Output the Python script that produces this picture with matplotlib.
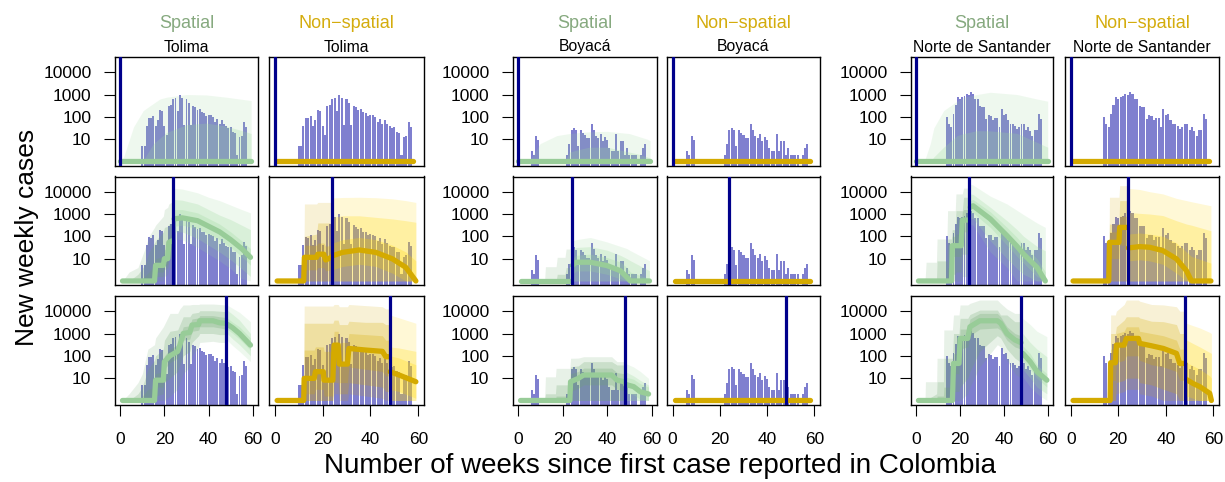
import numpy as np
import matplotlib

matplotlib.use("Agg")

import matplotlib.pyplot as plt
from matplotlib.ticker import NullLocator

plt.rcParams["font.family"] = ["Liberation Sans", "DejaVu Sans"]

# observed weekly cases per department
TOL_WEEKS = np.arange(10, 58)
TOL_CASES = [5, 5, 40, 90, 85, 110, 40, 70, 200, 180, 40, 16, 300, 350, 600, 700,
             180, 1000, 700, 45, 650, 420, 45, 320, 270, 210, 230, 160, 150, 110,
             125, 120, 100, 60, 80, 47, 75, 48, 38, 32, 35, 20, 19, 2, 12, 14, 58, 36]
BOY_WEEKS = np.r_[6:10, 22:54, 55:58]
BOY_CASES = [3, 2, 14, 9, 2, 6, 27, 32, 25, 5, 25, 19, 15, 11, 11, 50, 27, 14, 11,
             17, 8, 13, 9, 4, 3, 3, 17, 3, 8, 8, 2, 4, 2, 2, 2, 2, 2, 4, 6]
NOR_WEEKS = np.arange(14, 58)
NOR_CASES = [100, 50, 35, 140, 350, 740, 660, 750, 850, 1070, 1000, 1300, 1070, 660,
             640, 300, 280, 280, 80, 120, 110, 70, 90, 90, 35, 230, 120, 135, 70, 50,
             50, 38, 29, 36, 50, 50, 25, 35, 24, 14, 25, 25, 135, 80]

DEPTS = ["Tolima", "Boyacá", "Norte de Santander"]
CUTS = [0, 24, 48]

# model output, log10 weekly cases:
# week, median, lo95, hi95, lo80, hi80, lo50, hi50
FLAT = [(1.0, 0, 0, 0, 0, 0, 0, 0), (58.0, 0, 0, 0, 0, 0, 0, 0)]

TOL_SP_R1 = [
    (0.0, 0, 0, 0.00, 0, 0.00, 0, 0), (1.5, 0, 0, 0.20, 0, 0.00, 0, 0),
    (6.0, 0, 0, 1.55, 0, 0.00, 0, 0), (10.4, 0, 0, 2.28, 0, 0.05, 0, 0),
    (15.0, 0, 0, 2.60, 0, 0.80, 0, 0), (18.0, 0, 0, 2.80, 0, 1.05, 0, 0),
    (21.0, 0, 0, 2.88, 0, 1.30, 0, 0), (30.0, 0, 0, 3.00, 0, 1.65, 0, 0),
    (39.0, 0, 0, 2.98, 0, 1.72, 0, 0), (48.0, 0, 0, 2.88, 0, 1.58, 0, 0),
    (57.0, 0, 0, 2.76, 0, 1.33, 0, 0), (59.3, 0, 0, 2.73, 0, 1.25, 0, 0),
]
BOY_SP_R1 = [
    (0.0, 0, 0, 0.00, 0, 0.00, 0, 0), (5.3, 0, 0, 0.10, 0, 0.00, 0, 0),
    (9.8, 0, 0, 0.80, 0, 0.00, 0, 0), (17.3, 0, 0, 1.16, 0, 0.00, 0, 0),
    (21.0, 0, 0, 1.22, 0, 0.00, 0, 0), (23.0, 0, 0, 1.25, 0, 0.42, 0, 0),
    (27.8, 0, 0, 1.30, 0, 0.55, 0, 0), (32.0, 0, 0, 1.33, 0, 0.64, 0, 0),
    (40.0, 0, 0, 1.35, 0, 0.64, 0, 0), (50.0, 0, 0, 1.25, 0, 0.42, 0, 0),
    (53.2, 0, 0, 1.15, 0, 0.35, 0, 0), (58.0, 0, 0, 1.00, 0, 0.20, 0, 0),
    (59.3, 0, 0, 0.93, 0, 0.15, 0, 0),
]
NOR_SP_R1 = [
    (0.0, 0, 0, 0.00, 0, 0.00, 0, 0), (4.0, 0, 0, 0.10, 0, 0.00, 0, 0),
    (6.4, 0, 0, 0.80, 0, 0.00, 0, 0), (8.0, 0, 0, 1.50, 0, 0.20, 0, 0),
    (12.5, 0, 0, 2.28, 0, 0.64, 0, 0), (18.6, 0, 0, 2.70, 0, 1.16, 0, 0),
    (21.6, 0, 0, 2.88, 0, 1.25, 0, 0), (27.7, 0, 0, 3.00, 0, 1.38, 0, 0),
    (33.8, 0, 0, 3.10, 0, 1.37, 0, 0), (46.0, 0, 0, 3.00, 0, 1.26, 0, 0),
    (55.0, 0, 0, 2.80, 0, 0.86, 0, 0), (60.0, 0, 0, 2.70, 0, 0.64, 0, 0),
]

TOL_SP_R2_FIT = [
    (1.0, 0.00, 0.00, 0.00, 0.00, 0.00, 0.00, 0.00),
    (4.0, 0.00, 0.00, 0.40, 0.00, 0.00, 0.00, 0.00),
    (8.0, 0.00, 0.00, 0.60, 0.00, 0.30, 0.00, 0.00),
    (11.0, 0.00, 0.00, 1.40, 0.00, 0.70, 0.00, 0.20),
    (13.0, 0.00, 0.00, 2.00, 0.00, 1.30, 0.00, 0.40),
    (15.5, 0.00, 0.00, 2.40, 0.00, 1.70, 0.00, 0.70),
    (16.0, 0.70, 0.00, 2.50, 0.20, 1.80, 0.40, 1.00),
    (19.5, 0.70, 0.00, 2.90, 0.20, 2.20, 0.40, 1.10),
    (20.0, 1.00, 0.20, 3.20, 0.50, 2.40, 0.70, 1.40),
    (21.5, 1.00, 0.30, 3.30, 0.60, 2.45, 0.75, 1.45),
    (22.0, 1.73, 0.50, 3.45, 1.00, 2.55, 1.40, 2.00),
    (23.6, 1.80, 0.60, 3.55, 1.10, 2.60, 1.50, 2.10),
]
TOL_SP_R2_FC = [
    (24.4, 2.78, 1.88, 4.15, 2.20, 3.65, 2.45, 3.20),
    (28.0, 2.83, 1.85, 4.12, 2.20, 3.62, 2.50, 3.20),
    (35.0, 2.70, 1.50, 3.95, 1.90, 3.45, 2.35, 3.05),
    (40.0, 2.45, 1.20, 3.75, 1.60, 3.20, 2.10, 2.80),
    (45.0, 2.20, 0.90, 3.60, 1.30, 2.95, 1.85, 2.55),
    (50.0, 1.85, 0.55, 3.40, 0.95, 2.75, 1.50, 2.20),
    (55.0, 1.45, 0.10, 3.20, 0.55, 2.50, 1.10, 1.80),
    (59.0, 1.06, 0.00, 3.05, 0.20, 2.30, 0.70, 1.45),
]
TOL_NS_R2_FIT = [
    (1.0, 0.00, 0.00, 0.00, 0.00, 0.00, 0.00, 0.00),
    (12.1, 0.00, 0.00, 0.00, 0.00, 0.00, 0.00, 0.00),
    (12.4, 1.06, 0.00, 3.45, 0.00, 2.00, 0.50, 1.60),
    (17.5, 1.06, 0.00, 3.45, 0.00, 2.10, 0.50, 1.60),
    (18.0, 1.20, 0.00, 3.52, 0.00, 2.60, 0.60, 1.70),
    (20.5, 1.20, 0.00, 3.52, 0.00, 2.60, 0.60, 1.70),
    (21.3, 0.94, 0.00, 3.52, 0.00, 2.60, 0.45, 1.55),
    (23.6, 1.06, 0.00, 3.52, 0.00, 2.60, 0.50, 1.60),
]
TOL_NS_R2_FC = [
    (24.2, 1.13, 0.00, 3.72, 0.00, 2.85, 0.50, 1.70),
    (28.3, 1.28, 0.00, 3.74, 0.00, 2.92, 0.65, 1.85),
    (35.3, 1.39, 0.00, 3.75, 0.00, 2.92, 0.75, 1.95),
    (42.3, 1.28, 0.00, 3.73, 0.00, 2.85, 0.65, 1.85),
    (49.2, 0.99, 0.00, 3.68, 0.00, 2.78, 0.35, 1.60),
    (54.8, 0.61, 0.00, 3.60, 0.00, 2.70, 0.00, 1.30),
    (59.0, 0.00, 0.00, 3.52, 0.00, 2.63, 0.00, 0.90),
]
BOY_SP_R2_FIT = [
    (1.0, 0, 0, 0.00, 0, 0.00, 0, 0), (11.8, 0, 0, 0.00, 0, 0.00, 0, 0),
    (12.2, 0, 0, 0.64, 0, 0.00, 0, 0), (17.0, 0, 0, 0.64, 0, 0.00, 0, 0),
    (17.5, 0, 0, 1.06, 0, 0.30, 0, 0), (21.0, 0, 0, 1.06, 0, 0.30, 0, 0),
    (21.5, 0, 0, 1.43, 0, 0.60, 0, 0), (23.6, 0, 0, 1.43, 0, 0.60, 0, 0),
]
BOY_SP_R2_FC = [
    (24.3, 0.69, 0.00, 1.80, 0.00, 1.43, 0.30, 1.00),
    (26.0, 0.84, 0.00, 1.85, 0.00, 1.50, 0.45, 1.15),
    (32.4, 0.84, 0.00, 1.95, 0.00, 1.54, 0.45, 1.20),
    (39.9, 0.69, 0.00, 1.75, 0.00, 1.38, 0.30, 1.05),
    (45.9, 0.46, 0.00, 1.55, 0.00, 1.15, 0.10, 0.85),
    (48.9, 0.16, 0.00, 1.45, 0.00, 1.00, 0.00, 0.60),
    (50.4, 0.00, 0.00, 1.36, 0.00, 0.91, 0.00, 0.40),
    (59.0, 0.00, 0.00, 0.91, 0.00, 0.46, 0.00, 0.10),
]
NOR_SP_R2_FIT = [
    (1.0, 0.00, 0.00, 0.00, 0.00, 0.00, 0.00, 0.00),
    (4.0, 0.00, 0.00, 0.00, 0.00, 0.00, 0.00, 0.00),
    (4.5, 0.00, 0.00, 0.84, 0.00, 0.00, 0.00, 0.00),
    (9.2, 0.00, 0.00, 0.84, 0.00, 0.00, 0.00, 0.00),
    (9.5, 0.00, 0.00, 1.88, 0.00, 0.90, 0.00, 0.00),
    (14.0, 0.00, 0.00, 1.88, 0.00, 0.90, 0.00, 0.00),
    (14.3, 0.00, 0.00, 3.15, 0.00, 1.88, 0.00, 0.60),
    (16.1, 0.00, 0.00, 3.15, 0.00, 1.88, 0.00, 0.60),
    (16.4, 1.58, 0.00, 3.15, 0.30, 2.30, 1.10, 2.00),
    (17.8, 1.58, 0.00, 3.15, 0.30, 2.30, 1.10, 2.00),
    (18.1, 1.58, 0.00, 3.90, 0.40, 3.15, 1.10, 2.10),
    (20.5, 1.58, 0.00, 3.90, 0.40, 3.15, 1.10, 2.10),
    (21.0, 2.73, 0.20, 3.90, 1.20, 3.15, 2.20, 3.10),
    (21.6, 2.73, 0.20, 4.16, 1.20, 3.75, 2.20, 3.20),
    (23.6, 2.73, 0.20, 4.16, 1.20, 3.75, 2.20, 3.20),
]
NOR_SP_R2_FC = [
    (24.6, 3.30, 2.55, 4.34, 2.80, 3.90, 3.00, 3.60),
    (25.9, 3.37, 2.50, 4.30, 2.80, 3.88, 3.05, 3.65),
    (33.8, 2.78, 1.30, 3.80, 1.80, 3.30, 2.40, 3.10),
    (41.4, 2.03, 0.60, 3.45, 1.00, 2.70, 1.60, 2.40),
    (46.0, 1.55, 0.00, 3.16, 0.55, 2.30, 1.10, 1.95),
    (49.0, 1.20, 0.00, 2.97, 0.30, 2.00, 0.80, 1.60),
    (55.1, 0.61, 0.00, 2.60, 0.00, 1.55, 0.20, 1.00),
    (58.9, 0.00, 0.00, 2.40, 0.00, 1.35, 0.00, 0.40),
]
NOR_NS_R2_FIT = [
    (1.0, 0.00, 0.00, 0.00, 0.00, 0.00, 0.00, 0.00),
    (16.0, 0.00, 0.00, 0.00, 0.00, 0.00, 0.00, 0.00),
    (16.3, 1.73, 0.00, 3.75, 0.00, 2.55, 1.00, 2.20),
    (20.3, 1.73, 0.00, 3.75, 0.00, 2.55, 1.00, 2.20),
    (20.6, 2.40, 0.00, 4.27, 0.00, 3.60, 1.60, 2.90),
    (23.6, 2.40, 0.00, 4.27, 0.00, 3.60, 1.60, 2.90),
]
NOR_NS_R2_FC = [
    (24.2, 1.48, 0.00, 4.15, 0.00, 3.07, 0.90, 2.10),
    (29.0, 1.54, 0.00, 4.10, 0.00, 3.03, 0.95, 2.15),
    (33.2, 1.51, 0.00, 4.00, 0.00, 3.00, 0.90, 2.10),
    (38.8, 1.36, 0.00, 3.90, 0.00, 2.93, 0.75, 2.00),
    (44.5, 0.99, 0.00, 3.70, 0.00, 2.70, 0.35, 1.70),
    (48.7, 0.46, 0.00, 3.60, 0.00, 2.55, 0.00, 1.30),
    (50.8, 0.00, 0.00, 3.55, 0.00, 2.50, 0.00, 1.10),
    (59.0, 0.00, 0.00, 3.37, 0.00, 2.25, 0.00, 0.80),
]

TOL_SP_R3_FIT = [
    (1.0, 0.00, 0.00, 0.00, 0.00, 0.00, 0.00, 0.00),
    (4.0, 0.00, 0.00, 0.30, 0.00, 0.00, 0.00, 0.00),
    (8.0, 0.00, 0.00, 0.80, 0.00, 0.30, 0.00, 0.00),
    (10.0, 0.00, 0.00, 1.20, 0.00, 0.60, 0.00, 0.20),
    (12.5, 0.00, 0.00, 2.30, 0.00, 1.40, 0.00, 0.50),
    (15.5, 0.00, 0.00, 2.50, 0.00, 1.80, 0.00, 0.60),
    (16.0, 0.91, 0.00, 2.80, 0.20, 2.00, 0.60, 1.20),
    (19.5, 0.91, 0.00, 3.30, 0.30, 2.30, 0.60, 1.30),
    (20.0, 1.74, 0.00, 3.40, 0.80, 2.70, 1.40, 2.00),
    (22.5, 2.00, 0.20, 3.90, 1.00, 3.10, 1.70, 2.30),
    (26.0, 2.20, 0.50, 3.90, 1.30, 3.16, 1.90, 2.50),
    (27.0, 2.48, 0.80, 4.10, 1.60, 3.40, 2.20, 2.80),
    (28.5, 3.00, 1.20, 4.28, 2.00, 3.75, 2.70, 3.30),
    (31.5, 3.05, 1.50, 4.28, 2.20, 3.75, 2.75, 3.35),
    (32.5, 3.38, 2.00, 4.30, 2.60, 3.90, 3.10, 3.65),
    (35.5, 3.40, 2.40, 4.30, 2.90, 3.95, 3.15, 3.70),
    (36.0, 3.57, 2.60, 4.32, 3.00, 4.02, 3.30, 3.80),
    (42.0, 3.57, 2.65, 4.32, 3.00, 4.02, 3.30, 3.80),
    (45.0, 3.48, 2.60, 4.30, 2.95, 4.00, 3.25, 3.75),
    (47.6, 3.46, 2.60, 4.28, 2.95, 3.98, 3.20, 3.72),
]
TOL_SP_R3_FC = [
    (48.4, 3.42, 2.70, 4.28, 3.00, 4.05, 3.20, 3.70),
    (51.0, 3.25, 2.45, 4.12, 2.75, 3.85, 3.00, 3.50),
    (54.0, 3.00, 2.20, 3.95, 2.50, 3.60, 2.75, 3.30),
    (59.0, 2.48, 1.74, 3.53, 2.00, 3.00, 2.25, 2.80),
]
TOL_NS_R3_FIT = [
    (1.0, 0.00, 0.00, 0.00, 0.00, 0.00, 0.00, 0.00),
    (12.1, 0.00, 0.00, 0.00, 0.00, 0.00, 0.00, 0.00),
    (12.3, 0.99, 0.00, 4.23, 0.00, 3.46, 0.30, 2.26),
    (16.5, 0.99, 0.00, 4.23, 0.00, 3.46, 0.30, 2.26),
    (17.0, 1.29, 0.00, 4.23, 0.00, 3.46, 0.50, 2.40),
    (20.3, 1.29, 0.00, 4.23, 0.00, 3.46, 0.50, 2.40),
    (20.6, 0.91, 0.00, 4.23, 0.00, 3.46, 0.20, 2.20),
    (24.3, 0.91, 0.00, 4.23, 0.00, 3.46, 0.20, 2.20),
    (24.8, 2.48, 0.30, 4.30, 0.80, 3.60, 1.60, 3.10),
    (26.5, 2.48, 0.30, 4.30, 0.80, 3.60, 1.60, 3.10),
    (27.0, 1.63, 0.00, 4.20, 0.30, 3.40, 0.80, 2.60),
    (30.4, 1.63, 0.00, 4.20, 0.30, 3.40, 0.80, 2.60),
    (31.0, 2.33, 0.30, 4.30, 0.80, 3.55, 1.50, 3.00),
    (38.0, 2.26, 0.20, 4.25, 0.70, 3.50, 1.40, 2.95),
    (45.0, 2.20, 0.10, 4.20, 0.60, 3.50, 1.30, 2.90),
    (46.4, 1.96, 0.00, 4.10, 0.40, 3.40, 1.10, 2.70),
    (47.6, 1.96, 0.00, 4.10, 0.40, 3.40, 1.10, 2.70),
]
TOL_NS_R3_FC = [
    (48.2, 1.29, 0.00, 3.83, 0.00, 2.40, 0.50, 2.00),
    (52.0, 1.14, 0.00, 3.70, 0.00, 2.35, 0.40, 1.90),
    (59.0, 0.84, 0.00, 3.46, 0.00, 2.20, 0.10, 1.60),
]
BOY_SP_R3_FIT = [
    (1.0, 0.00, 0.00, 0.00, 0.00, 0.00, 0.00, 0.00),
    (11.8, 0.00, 0.00, 0.00, 0.00, 0.00, 0.00, 0.00),
    (12.2, 0.00, 0.00, 1.06, 0.00, 0.30, 0.00, 0.00),
    (16.7, 0.00, 0.00, 1.06, 0.00, 0.30, 0.00, 0.00),
    (17.0, 0.00, 0.00, 1.44, 0.00, 0.70, 0.00, 0.20),
    (23.2, 0.00, 0.00, 1.44, 0.00, 0.70, 0.00, 0.20),
    (23.5, 0.84, 0.00, 1.89, 0.00, 1.51, 0.40, 1.20),
    (27.0, 0.99, 0.00, 1.90, 0.00, 1.55, 0.55, 1.30),
    (29.4, 1.14, 0.00, 1.96, 0.00, 1.74, 0.70, 1.45),
    (42.0, 1.14, 0.00, 1.96, 0.00, 1.74, 0.70, 1.45),
    (44.4, 0.91, 0.00, 1.74, 0.00, 1.59, 0.50, 1.25),
    (47.6, 0.84, 0.00, 1.74, 0.00, 1.59, 0.45, 1.20),
]
BOY_SP_R3_FC = [
    (48.2, 0.72, 0.00, 1.66, 0.00, 1.29, 0.35, 1.05),
    (51.9, 0.62, 0.00, 1.50, 0.00, 1.10, 0.25, 0.95),
    (54.9, 0.39, 0.00, 1.30, 0.00, 0.90, 0.05, 0.75),
    (58.6, 0.29, 0.00, 0.99, 0.00, 0.69, 0.00, 0.60),
]
NOR_SP_R3_FIT = [
    (1.0, 0.00, 0.00, 0.00, 0.00, 0.00, 0.00, 0.00),
    (4.0, 0.00, 0.00, 0.00, 0.00, 0.00, 0.00, 0.00),
    (4.2, 0.00, 0.00, 0.84, 0.00, 0.00, 0.00, 0.00),
    (9.3, 0.00, 0.00, 0.84, 0.00, 0.30, 0.00, 0.00),
    (9.5, 0.00, 0.00, 1.89, 0.00, 0.84, 0.00, 0.20),
    (12.4, 0.00, 0.00, 1.89, 0.00, 0.84, 0.00, 0.20),
    (12.6, 0.00, 0.00, 3.16, 0.00, 1.89, 0.00, 0.60),
    (16.5, 0.00, 0.00, 3.16, 0.00, 1.89, 0.00, 0.60),
    (17.0, 1.66, 0.00, 3.83, 0.40, 3.00, 1.20, 2.10),
    (19.5, 1.66, 0.00, 3.83, 0.40, 3.00, 1.20, 2.10),
    (20.0, 2.78, 0.00, 4.28, 0.60, 3.68, 2.30, 3.20),
    (23.5, 2.78, 0.30, 4.28, 1.00, 3.68, 2.40, 3.20),
    (24.5, 3.30, 0.60, 4.35, 1.30, 3.85, 2.90, 3.65),
    (29.0, 3.57, 1.50, 4.50, 2.20, 4.05, 3.20, 3.90),
    (37.0, 3.57, 2.50, 4.50, 2.90, 4.05, 3.25, 3.90),
    (38.5, 3.46, 2.40, 4.35, 2.80, 3.83, 3.15, 3.75),
    (41.4, 3.00, 1.80, 4.10, 2.30, 3.83, 2.70, 3.30),
    (45.0, 2.71, 1.20, 3.90, 1.90, 3.53, 2.40, 3.00),
    (47.8, 2.59, 1.00, 3.90, 1.70, 3.53, 2.30, 2.90),
]
NOR_SP_R3_FC = [
    (48.6, 2.11, 1.06, 3.68, 1.40, 3.00, 1.80, 2.45),
    (52.0, 1.74, 0.60, 3.40, 1.00, 2.60, 1.40, 2.10),
    (55.1, 1.29, 0.30, 3.10, 0.60, 2.30, 1.00, 1.60),
    (59.6, 0.91, 0.00, 2.86, 0.30, 1.96, 0.60, 1.20),
]
NOR_NS_R3_FIT = [
    (1.0, 0.00, 0.00, 0.00, 0.00, 0.00, 0.00, 0.00),
    (16.6, 0.00, 0.00, 0.00, 0.00, 0.00, 0.00, 0.00),
    (16.8, 1.69, 0.00, 3.83, 0.00, 3.00, 0.90, 2.30),
    (18.8, 1.69, 0.00, 3.83, 0.00, 3.00, 0.90, 2.30),
    (19.2, 2.48, 0.30, 4.00, 0.80, 3.30, 1.70, 3.00),
    (22.5, 2.48, 0.40, 4.30, 0.90, 3.60, 1.80, 3.10),
    (23.4, 2.78, 0.50, 4.50, 1.00, 3.75, 2.00, 3.30),
    (28.5, 2.78, 0.50, 4.50, 1.00, 3.75, 2.00, 3.30),
    (29.0, 2.56, 0.30, 4.45, 0.80, 3.70, 1.80, 3.10),
    (34.0, 2.45, 0.20, 4.30, 0.70, 3.55, 1.60, 3.00),
    (39.0, 2.33, 0.00, 4.28, 0.50, 3.53, 1.50, 2.90),
    (44.5, 2.11, 0.00, 4.20, 0.30, 3.40, 1.30, 2.70),
    (45.9, 1.66, 0.00, 4.00, 0.00, 3.00, 0.90, 2.30),
    (48.0, 1.66, 0.00, 4.00, 0.00, 3.00, 0.90, 2.30),
]
NOR_NS_R3_FC = [
    (48.7, 0.94, 0.00, 3.46, 0.00, 2.71, 0.20, 1.70),
    (51.5, 0.76, 0.00, 3.35, 0.00, 2.55, 0.10, 1.55),
    (54.3, 0.62, 0.00, 3.25, 0.00, 2.40, 0.00, 1.40),
    (58.5, 0.32, 0.00, 3.05, 0.00, 2.15, 0.00, 1.10),
    (59.2, 0.00, 0.00, 3.00, 0.00, 2.11, 0.00, 1.00),
]

# (fitted segment, projected segment) per row, in column order
PANELS = [
    [(None, TOL_SP_R1), (None, FLAT), (None, BOY_SP_R1), (None, FLAT),
     (None, NOR_SP_R1), (None, FLAT)],
    [(TOL_SP_R2_FIT, TOL_SP_R2_FC), (TOL_NS_R2_FIT, TOL_NS_R2_FC),
     (BOY_SP_R2_FIT, BOY_SP_R2_FC), (None, FLAT),
     (NOR_SP_R2_FIT, NOR_SP_R2_FC), (NOR_NS_R2_FIT, NOR_NS_R2_FC)],
    [(TOL_SP_R3_FIT, TOL_SP_R3_FC), (TOL_NS_R3_FIT, TOL_NS_R3_FC),
     (BOY_SP_R3_FIT, BOY_SP_R3_FC), (None, FLAT),
     (NOR_SP_R3_FIT, NOR_SP_R3_FC), (NOR_NS_R3_FIT, NOR_NS_R3_FC)],
]
OBS = [(TOL_WEEKS, TOL_CASES), (BOY_WEEKS, BOY_CASES), (NOR_WEEKS, NOR_CASES)]

# colours
BAR = "#0000a0"
NAVY = "#00008b"
LINE = ["#98cc98", "#d4aa00"]
FIT_FILL = ["#6fa86f", "#d4aa00"]
FC_FILL = ["#9ad89a", "#ffd700"]
BAND_ALPHA = [0.16, 0.24, 0.26]
TITLE = ["Spatial", "Non\u2212spatial"]
TITLE_COL = ["#86a97f", "#d4ac0d"]

# layout in pixels
W, H = 1225, 482
COLS = [(115, 258), (269, 424), (513, 657), (667, 820), (911, 1053), (1065, 1219)]
ROWS = [(57, 165.5), (176.5, 285), (296, 404.5)]
YLO, YHI = 10 ** -0.18, 10 ** 4.68


def draw_segment(ax, table, model, fitted):
    t = np.asarray(table, dtype=float)
    wk = t[:, 0]
    q = np.power(10.0, t[:, 1:])
    fill = FIT_FILL[model] if fitted else FC_FILL[model]
    for b, a in enumerate(BAND_ALPHA):
        lo, hi = q[:, 1 + 2 * b], q[:, 2 + 2 * b]
        if np.any(hi > lo):
            ax.fill_between(wk, lo, hi, color=fill, alpha=a, lw=0, zorder=2)
    ax.plot(wk, q[:, 0], color=LINE[model], lw=3.8, solid_capstyle="round",
            solid_joinstyle="round", zorder=3)


fig = plt.figure(figsize=(W / 100, H / 100), dpi=100)

for r, cut in enumerate(CUTS):
    y0, y1 = ROWS[r]
    for c in range(6):
        x0, x1 = COLS[c]
        dept, model = c // 2, c % 2
        ax = fig.add_axes([x0 / W, 1 - y1 / H, (x1 - x0) / W, (y1 - y0) / H])
        ax.set_yscale("log")
        ax.set_xlim(-2.4, 62.4)
        ax.set_ylim(YLO, YHI)

        weeks, cases = OBS[dept]
        cases = np.asarray(cases, dtype=float)
        ax.bar(weeks, cases - YLO, bottom=YLO, width=0.86, color=BAR,
               alpha=0.5, lw=0, zorder=1)

        fit, fc = PANELS[r][c]
        if fit is not None:
            draw_segment(ax, fit, model, True)
        draw_segment(ax, fc, model, False)
        ax.axvline(cut, color=NAVY, lw=2.3, zorder=4)

        for s in ax.spines.values():
            s.set_linewidth(1.0)
            s.set_color("black")
        ax.yaxis.set_minor_locator(NullLocator())
        ax.set_yticks([10, 100, 1000, 10000], ["10", "100", "1000", "10000"])
        ax.set_xticks([0, 20, 40, 60], ["0", "20", "40", "60"])
        ax.tick_params(direction="out", length=8, width=0.8, labelsize=12.5,
                       pad=9, colors="black")
        ax.tick_params(axis="x", pad=12)
        if model == 1:
            ax.tick_params(axis="y", left=False, labelleft=False)
        if r < 2:
            ax.tick_params(axis="x", bottom=False, labelbottom=False)

        if r == 0:
            xc = (x0 + x1) / 2 / W
            fig.text(xc, 1 - 24 / H, TITLE[model], color=TITLE_COL[model],
                     fontsize=13, ha="center", va="center")
            fig.text(xc, 1 - 47 / H, DEPTS[dept], color="black",
                     fontsize=11.3, ha="center", va="center")

fig.text(27 / W, 1 - 237 / H, "New weekly cases", rotation=90, fontsize=19,
         ha="center", va="center")
fig.text(660 / W, 1 - 466 / H,
         "Number of weeks since first case reported in Colombia", fontsize=20,
         ha="center", va="center")

fig.savefig("out.png", dpi=100)
